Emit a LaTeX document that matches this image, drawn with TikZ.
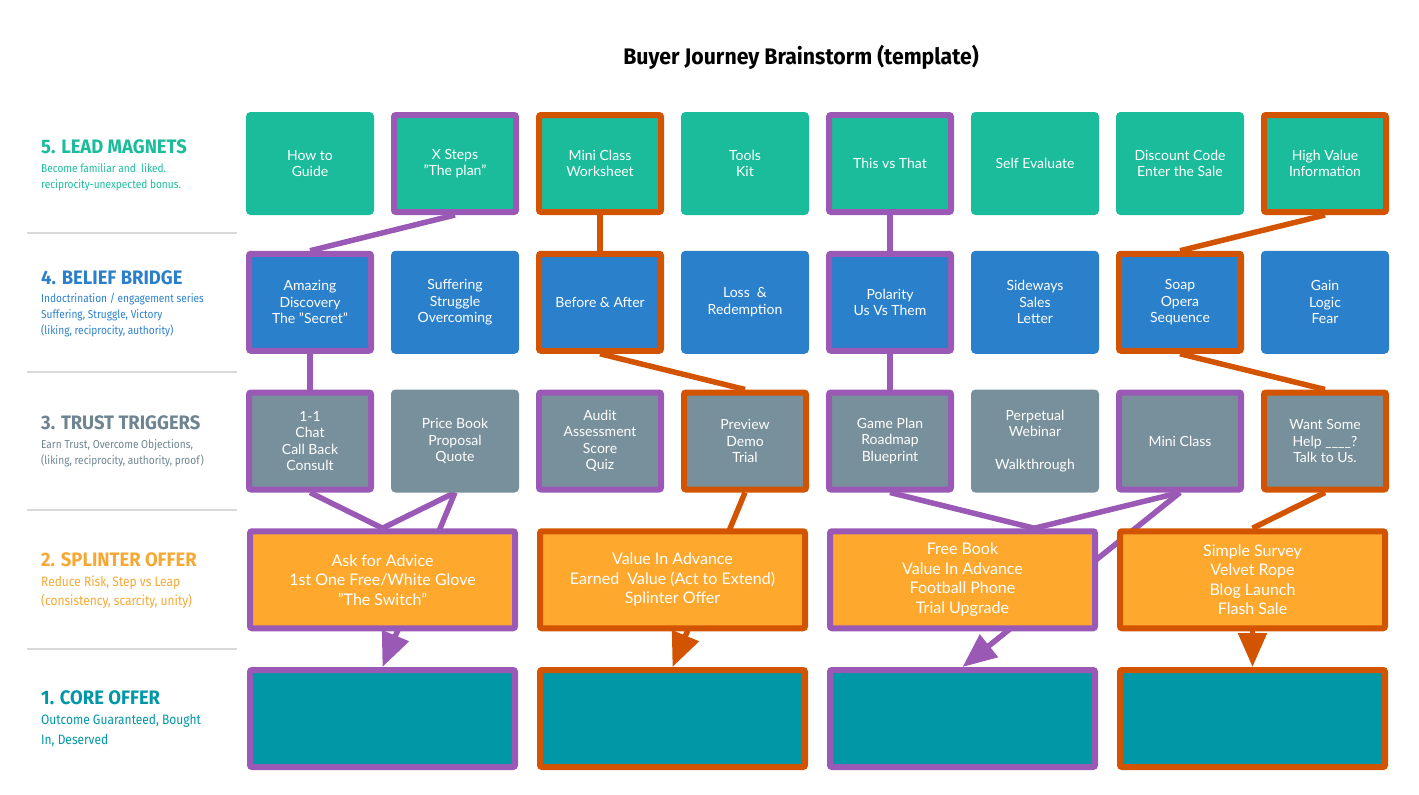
\documentclass[tikz,border=0pt]{standalone}
\usepackage{fontspec}
\setmainfont{Lato}
\newfontfamily\headfont[FakeStretch=0.945]{Fira Sans}
\newfontfamily\notefont[FakeStretch=0.88]{Fira Sans}
\usetikzlibrary{positioning, calc, backgrounds, arrows.meta}

\definecolor{leadgreen}{HTML}{1ABC9C}
\definecolor{beliefblue}{HTML}{2B80CC}
\definecolor{trustgray}{HTML}{78909C}
\definecolor{trustlabel}{HTML}{6E8591}
\definecolor{offerorange}{HTML}{FFA82E}
\definecolor{offerlabel}{HTML}{F7A833}
\definecolor{coreteal}{HTML}{0097A7}
\definecolor{framepurple}{HTML}{9B59B6}
\definecolor{framerust}{HTML}{D35400}
\definecolor{dividergray}{HTML}{D9D9D9}

\tikzset{
  card/.style={rectangle, rounded corners=2pt, fill=#1, draw=#1, line width=6pt,
    minimum width=122pt, minimum height=97pt, inner sep=0pt, text=white,
    align=center, font=\fontsize{14}{16.5}\selectfont},
  offer/.style={card=offerorange, minimum width=265pt, font=\fontsize{16}{19.5}\selectfont},
  core/.style={card=coreteal, minimum width=265pt},
  violetframe/.style={draw=framepurple},
  rustframe/.style={draw=framerust},
  heading/.style={font=\headfont\bfseries\fontsize{22.5}{26}\selectfont},
  level/.style={anchor=west, inner sep=0pt, text=#1, font=\headfont\bfseries\fontsize{19.5}{22}\selectfont},
  levelnote/.style={anchor=west, inner sep=0pt, text=#1, align=left, font=\notefont\fontsize{11.5}{16}\selectfont},
  levelnotebig/.style={levelnote=#1, font=\notefont\fontsize{13.6}{19.5}\selectfont},
  divider/.style={draw=dividergray, line width=1.5pt},
  violetlink/.style={draw=framepurple, line width=5.5pt},
  rustlink/.style={draw=framerust, line width=5.5pt},
  tip/.style={-{Triangle[length=34pt, width=28pt]}}
}

\begin{document}
\begin{tikzpicture}[x=1pt, y=-1pt, node distance=138.75pt and 145pt, on grid, auto]
  \useasboundingbox (0,0) rectangle (1419,795);
  \node[heading] (title) at (801,57) {Buyer Journey Brainstorm (template)};

  % level labels
  \node[level=leadgreen] (lvl5) at (41,146.7) {5. LEAD MAGNETS};
  \node[levelnote=leadgreen] (note5) at (41,177) {Become familiar and\ \ liked.\\reciprocity-unexpected bonus.};
  \node[level=beliefblue] (lvl4) at (41,277.7) {4. BELIEF BRIDGE};
  \node[levelnote=beliefblue] (note4) at (41,315) {Indoctrination / engagement series\\Suffering, Struggle, Victory\\(liking, reciprocity, authority)};
  \node[level=trustlabel] (lvl3) at (41,423) {3. TRUST TRIGGERS};
  \node[levelnote=trustlabel] (note3) at (41,453.7) {Earn Trust, Overcome Objections,\\(liking, reciprocity, authority, proof)};
  \node[level=offerlabel] (lvl2) at (41,560) {2. SPLINTER OFFER};
  \node[levelnotebig=offerlabel] (note2) at (41,592) {Reduce Risk, Step vs Leap\\(consistency, scarcity, unity)};
  \node[level=coreteal] (lvl1) at (41,698) {1. CORE OFFER};
  \node[levelnotebig=coreteal] (note1) at (41,730.5) {Outcome Guaranteed, Bought\\In, Deserved};

  \foreach \y in {233,372,510,649}
    \draw[divider] (27,\y) -- (237,\y);

  % lead magnets
  \node[card=leadgreen] (howto) at (310,163.5) {How to\\Guide};
  \node[card=leadgreen, violetframe] (xsteps) [right=of howto] {X Steps\\"The plan"};
  \node[card=leadgreen, rustframe] (worksheet) [right=of xsteps] {Mini Class\\Worksheet};
  \node[card=leadgreen] (toolkit) [right=of worksheet] {Tools\\Kit};
  \node[card=leadgreen, violetframe] (thisvs) [right=of toolkit] {This vs That};
  \node[card=leadgreen] (selfeval) [right=of thisvs] {Self Evaluate};
  \node[card=leadgreen] (discount) [right=of selfeval] {Discount Code\\Enter the Sale};
  \node[card=leadgreen, rustframe] (highvalue) [right=of discount] {High Value\\Information};

  % belief bridge
  \node[card=beliefblue, violetframe] (amazing) [below=of howto] {Amazing\\Discovery\\The "Secret"};
  \node[card=beliefblue] (suffering) [right=of amazing] {Suffering\\Struggle\\Overcoming};
  \node[card=beliefblue, rustframe] (before) [right=of suffering] {Before \& After};
  \node[card=beliefblue] (loss) [right=of before] {Loss\ \ \&\\Redemption};
  \node[card=beliefblue, violetframe] (polarity) [right=of loss] {Polarity\\Us Vs Them};
  \node[card=beliefblue] (sideways) [right=of polarity] {Sideways\\Sales\\Letter};
  \node[card=beliefblue, rustframe] (soap) [right=of sideways] {Soap\\Opera\\Sequence};
  \node[card=beliefblue] (gain) [right=of soap] {Gain\\Logic\\Fear};

  % trust triggers
  \node[card=trustgray, violetframe] (chat) [below=of amazing] {1-1\\Chat\\Call Back\\Consult};
  \node[card=trustgray] (pricebook) [right=of chat] {Price Book\\Proposal\\Quote};
  \node[card=trustgray, violetframe] (audit) [right=of pricebook] {Audit\\Assessment\\Score\\Quiz};
  \node[card=trustgray, rustframe] (preview) [right=of audit] {Preview\\Demo\\Trial};
  \node[card=trustgray, violetframe] (gameplan) [right=of preview] {Game Plan\\Roadmap\\Blueprint};
  \node[card=trustgray] (webinar) [right=of gameplan] {Perpetual\\Webinar\\\mbox{}\\Walkthrough};
  \node[card=trustgray, violetframe] (miniclass) [right=of webinar] {Mini Class};
  \node[card=trustgray, rustframe] (help) [right=of miniclass] {Want Some\\Help \_\_\_\_?\\Talk to Us.};

  % splinter offers
  \node[offer, violetframe] (advice) at ($(chat)!0.5!(pricebook)+(0,138.75)$) {Ask for Advice\\1st One Free/White Glove\\"The Switch"};
  \node[offer, rustframe] (value) at ($(audit)!0.5!(preview)+(0,138.75)$) {Value In Advance\\Earned\ \ Value (Act to Extend)\\Splinter Offer};
  \node[offer, violetframe] (freebook) at ($(gameplan)!0.5!(webinar)+(0,138.75)$) {Free Book\\Value In Advance\\Football Phone\\Trial Upgrade};
  \node[offer, rustframe] (survey) at ($(miniclass)!0.5!(help)+(0,138.75)$) {Simple Survey\\Velvet Rope\\Blog Launch\\Flash Sale};

  % core offers
  \node[core, violetframe] (core1) [below=of advice] {};
  \node[core, rustframe] (core2) [below=of value] {};
  \node[core, violetframe] (core3) [below=of freebook] {};
  \node[core, rustframe] (core4) [below=of survey] {};

  \coordinate (meet) at ($(freebook.north west)!0.765!(freebook.north east)$);

  \begin{scope}[on background layer]
    \draw[violetlink] (xsteps.south) -- (amazing.north);
    \draw[rustlink] (worksheet.south) -- (before.north);
    \draw[violetlink] (thisvs.south) -- (polarity.north);
    \draw[rustlink] (highvalue.south) -- (soap.north);

    \draw[violetlink] (amazing.south) -- (chat.north);
    \draw[rustlink] (before.south) -- (preview.north);
    \draw[violetlink] (polarity.south) -- (gameplan.north);
    \draw[rustlink] (soap.south) -- (help.north);

    \draw[violetlink] (chat.south) -- (advice.north);
    \draw[violetlink] (pricebook.south) -- (advice.north);
    \draw[violetlink, tip] (pricebook.south) -- (core1.north);
    \draw[rustlink, tip] (preview.south) -- (core2.north);
    \draw[violetlink] (gameplan.south) -- (meet);
    \draw[violetlink] (miniclass.south) -- (meet);
    \draw[violetlink, tip] (miniclass.south) -- (core3.north);
    \draw[rustlink] (help.south) -- (survey.north);
    \draw[rustlink, tip] (survey.south) -- (core4.north);
  \end{scope}
\end{tikzpicture}
\end{document}
